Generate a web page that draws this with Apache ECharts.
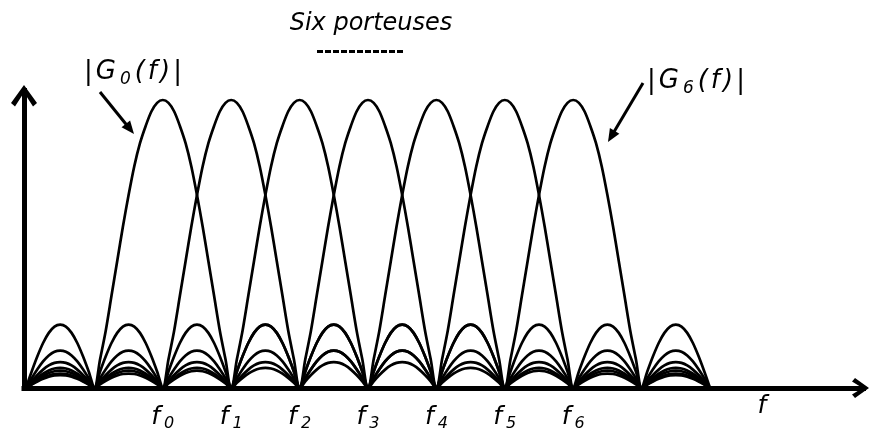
<!DOCTYPE html>
<html>
<head>
<meta charset="utf-8">
<script src="https://cdn.jsdelivr.net/npm/echarts@6/dist/echarts.min.js"></script>
<style>
  html, body { margin: 0; padding: 0; background: #fff; }
  #chart { width: 872px; height: 433px; }
</style>
</head>
<body>
<div id="chart"></div>
<script>
// Carrier frequencies in units of the carrier spacing: f0 ... f6
const carriers = [0, 1, 2, 3, 4, 5, 6];
const carrierIndex = ['0', '1', '2', '3', '4', '5', '6'];
// Every spectrum runs from its first zero to its last zero
const spanStart = -2;
const spanEnd = 8;
// Main lobe of |G_k(f)|, centre outwards, one sample every 1/12 of the spacing
const mainHalf = [1, 0.99, 0.96, 0.91, 0.85, 0.77, 0.67, 0.56, 0.44, 0.32, 0.20, 0.10, 0];
// One side-lobe arch normalised to its own peak, one sample every 1/12 of the spacing
const sideArch = [0, 0.26, 0.50, 0.71, 0.87, 0.97, 1, 0.97, 0.87, 0.71, 0.50, 0.26, 0];
// Peak of the 1st, 2nd, ... 7th side lobe relative to the main lobe
const sideHeights = [0.22, 0.13, 0.09, 0.07, 0.06, 0.05, 0.045];

const STEPS = sideArch.length - 1;

// Chain the main lobe and the side lobes of one carrier into a polyline
function spectrum(fk) {
  const pts = [];
  const push = (x, y) => {
    if (pts.length && Math.abs(pts[pts.length - 1][0] - x) < 1e-9) return;
    pts.push([x, y]);
  };
  for (let m = spanStart; m < spanEnd; m++) {
    if (m === fk - 1) {
      for (let i = 0; i < mainHalf.length; i++) push(m + i / STEPS, mainHalf[mainHalf.length - 1 - i]);
      for (let i = 1; i < mainHalf.length; i++) push(fk + i / STEPS, mainHalf[i]);
      m++;
      continue;
    }
    const order = m < fk ? fk - 1 - m : m - fk;
    const h = sideHeights[order - 1];
    for (let i = 0; i < sideArch.length; i++) push(m + i / STEPS, sideArch[i] * h);
  }
  return pts;
}

const FONT = 'DejaVu Sans';
// Open arrow heads drawn on the axis ends (pointing up before rotation)
const arrowX = 'path://M10,0 L20,14 L16.5,17 L10,6.5 L3.5,17 L0,14 Z';
const arrowY = 'path://M13,0 L26,18 L22,21.5 L13,7.5 L4,21.5 L0,18 Z';

const chart = echarts.init(document.getElementById('chart'), null, { renderer: 'canvas' });

const series = carriers.map((fk) => ({
  type: 'line',
  name: 'G' + fk,
  data: spectrum(fk),
  symbol: 'none',
  smooth: 0.3,
  lineStyle: { color: '#000', width: 2.7 },
  z: 3
}));

// Callout label with a straight arrow pointing at one spectrum
function callout(sub, tx, ty, x1, y1, x2, y2) {
  const dx = x2 - x1, dy = y2 - y1;
  const len = Math.sqrt(dx * dx + dy * dy);
  const ux = dx / len, uy = dy / len;
  const headLen = 13, headHalf = 5.5;
  const bx = x2 - ux * headLen, by = y2 - uy * headLen;
  const big = { fontFamily: FONT, fontStyle: 'italic', fontSize: 26, fill: '#000', padding: [0, 3, 0, 0] };
  return [
    {
      type: 'text', x: tx, y: ty, z: 10,
      style: {
        text: '{b||}{b|G}{s|' + sub + '}{b|(}{b|f}{b|)}{b||}',
        rich: {
          b: big,
          s: { fontFamily: FONT, fontStyle: 'italic', fontSize: 17, fill: '#000', padding: [14, 4, 0, 1] }
        }
      }
    },
    {
      type: 'line', z: 10,
      shape: { x1: x1, y1: y1, x2: bx + ux * 2, y2: by + uy * 2 },
      style: { stroke: '#000', lineWidth: 3 }
    },
    {
      type: 'polygon', z: 10,
      shape: { points: [[x2, y2], [bx - uy * headHalf, by + ux * headHalf], [bx + uy * headHalf, by - ux * headHalf]] },
      style: { fill: '#000' }
    }
  ];
}

const option = {
  backgroundColor: '#fff',
  animation: false,
  title: {
    text: 'Six porteuses',
    left: 366,
    top: 7,
    textAlign: 'center',
    textStyle: { fontFamily: FONT, fontStyle: 'italic', fontWeight: 'normal', fontSize: 24, color: '#000' }
  },
  grid: { left: 24, right: 8.5, top: 90.5, bottom: 45, outerBoundsMode: 'none', containLabel: false },
  xAxis: {
    type: 'value',
    min: -2.029,
    max: 10.244,
    axisLine: {
      show: true, onZero: false,
      lineStyle: { color: '#000', width: 5, cap: 'square' },
      symbol: ['none', arrowX], symbolSize: [20, 17], symbolOffset: [0, -3]
    },
    axisTick: { show: false },
    splitLine: { show: false },
    axisLabel: {
      customValues: carriers,
      margin: 14,
      formatter: (v) => '{f|f}{s|' + carrierIndex[carriers.indexOf(v)] + '}',
      rich: {
        f: { fontFamily: FONT, fontStyle: 'italic', fontSize: 25, color: '#000', padding: [0, 4, 0, 0] },
        s: { fontFamily: FONT, fontStyle: 'italic', fontSize: 16, color: '#000', padding: [14, 0, 0, 0] }
      }
    },
    name: 'f',
    nameLocation: 'end',
    nameGap: -106,
    nameTextStyle: { fontFamily: FONT, fontStyle: 'italic', fontSize: 25, color: '#000', verticalAlign: 'top', padding: [6, 0, 0, 0] }
  },
  yAxis: {
    type: 'value',
    min: 0,
    max: 1.033,
    axisLine: {
      show: true, onZero: false,
      lineStyle: { color: '#000', width: 5, cap: 'square' },
      symbol: ['none', arrowY], symbolSize: [26, 21.5], symbolOffset: [0, -5.25]
    },
    axisTick: { show: false },
    axisLabel: { show: false },
    splitLine: { show: false }
  },
  series: series,
  graphic: [
    {
      type: 'line', z: 10,
      shape: { x1: 317, y1: 51.5, x2: 405, y2: 51.5 },
      style: { stroke: '#000', lineWidth: 3, lineDash: [6, 2] }
    },
    ...callout('0', 84, 57, 100, 92, 134, 134),
    ...callout('6', 647, 66, 643, 83, 608, 142)
  ]
};

chart.setOption(option);
</script>
</body>
</html>
